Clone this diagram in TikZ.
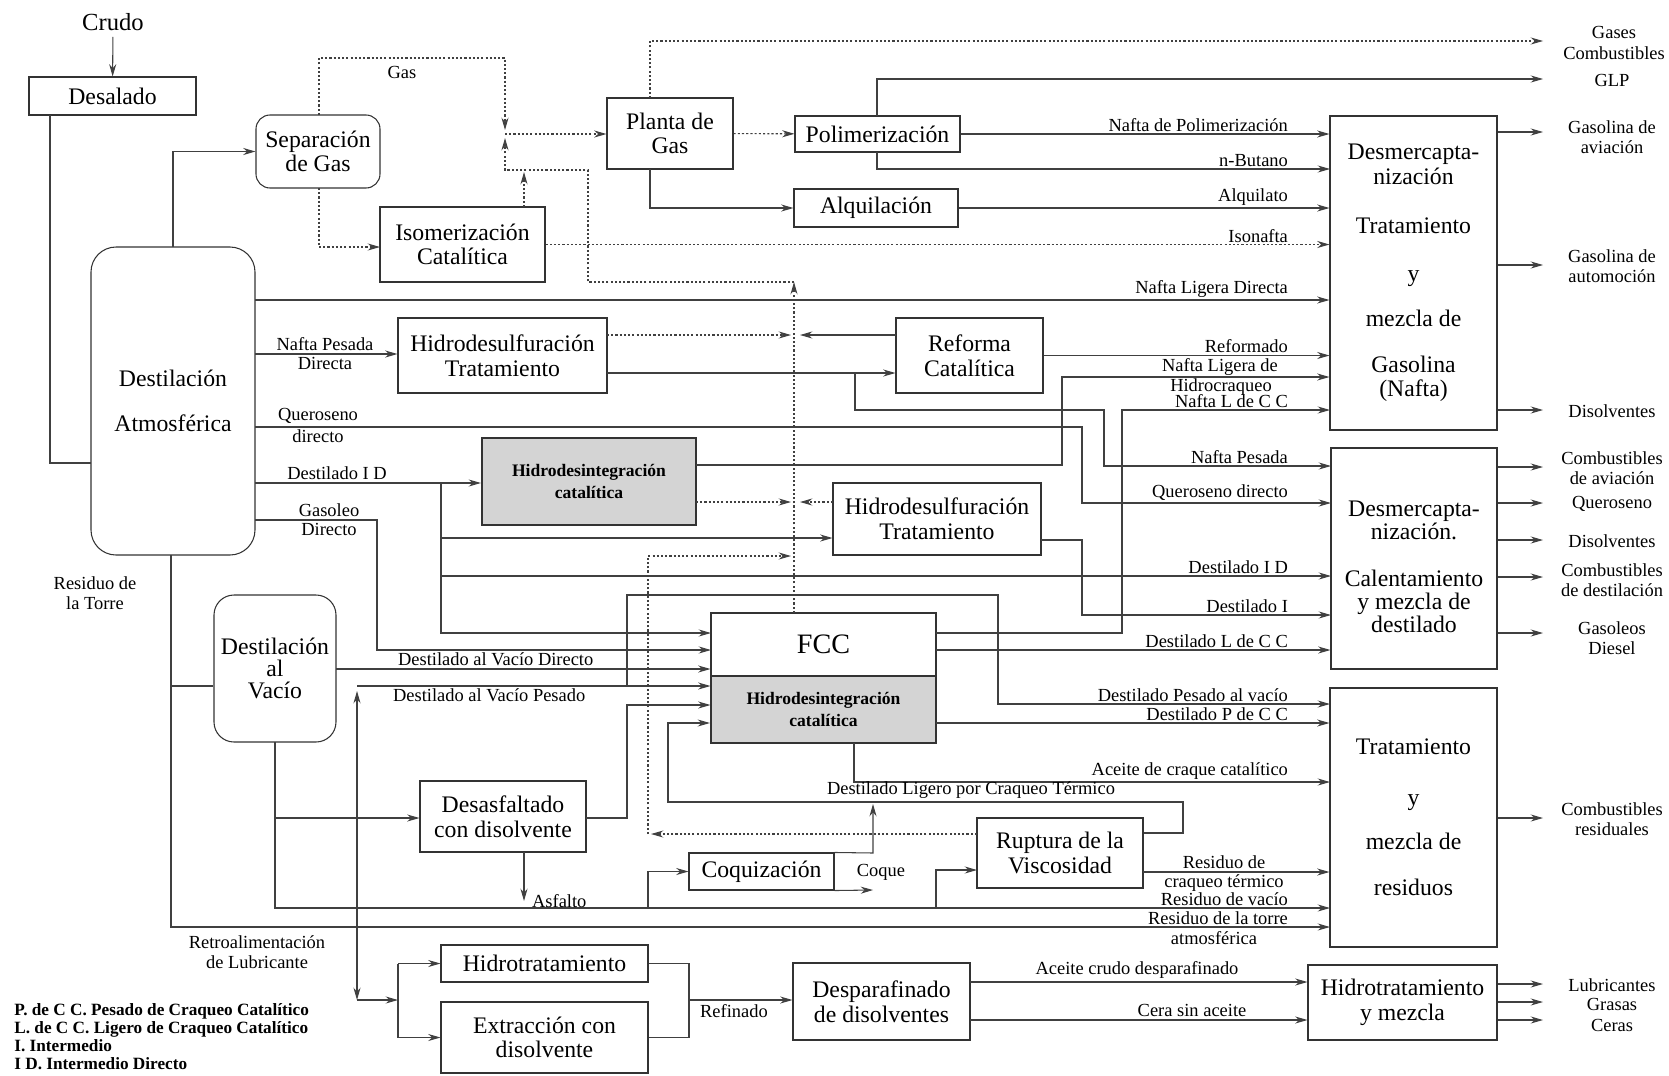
\documentclass[tikz,border=0pt]{standalone}
\usepackage{fontspec}
\setmainfont{Liberation Serif}
\usetikzlibrary{arrows.meta,positioning}

\tikzset{
  unit/.style={draw=black!80,line width=0.6pt,inner sep=0pt,align=center,
               font=\fontsize{13.5}{14}\selectfont},
  size/.style 2 args={minimum width=#1*0.2mm,minimum height=#2*0.2mm},
  column/.style={unit,rounded corners=5mm},
  hcrack/.style={unit,fill=black!17,line width=1.2pt,
               font=\bfseries\fontsize{10}{12.5}\selectfont},
  flow/.style={draw=black!75,line width=0.6pt},
  arr/.style={flow,-{Stealth[length=7pt,width=4pt]}},
  twoarr/.style={flow,{Stealth[length=7pt,width=4pt]}-{Stealth[length=7pt,width=4pt]}},
  gas/.style={dash pattern=on 1.2pt off 1.2pt},
  lbl/.style={font=\fontsize{10.5}{11.5}\selectfont,inner sep=1pt,align=center},
  tag/.style={lbl,anchor=south east},
  prod/.style={font=\fontsize{10.5}{11.5}\selectfont,inner sep=0pt,align=center},
}

\begin{document}
\begin{tikzpicture}[x=0.2mm,y=-0.2mm]
\useasboundingbox (0,0) rectangle (1669,1075);

% process units
\node[font=\fontsize{14}{16}\selectfont] (crudo) at (113,22) {Crudo};
\node[unit,size={167}{38}] (desal) at (112.5,96) {Desalado};
\node[unit,rounded corners=2.8mm,size={124}{73}] (sepgas) at (318,151.5) {Separación\\de Gas};
\node[unit,size={165}{75}] (isom) at (462.5,244.5) {Isomerización\\Catalítica};
\node[unit,size={126}{71}] (planta) at (670,133.5) {Planta de\\Gas};
\node[unit,size={165}{36}] (polim) at (877.5,134) {Polimerización};
\node[unit,size={164}{38}] (alqui) at (876,208) {Alquilación};
\node[unit,size={167}{314}] (gasol) at (1413.5,273)
  {Desmercapta-\\nización\\[14pt]Tratamiento\\[13.5pt]y\\[11.5pt]mezcla de\\[12pt]Gasolina\\(Nafta)};
\node[column,size={164}{308}] (atm) at (173,401) {Destilación\\[12pt]Atmosférica};
\node[unit,size={209}{75}] (hds1) at (502.5,355.5) {Hidrodesulfuración\\Tratamiento};
\node[unit,size={147}{75}] (reform) at (969.5,355.5) {Reforma\\Catalítica};
\node[hcrack,size={214}{87}] (hyd1) at (589,481.5) {Hidrodesintegración\\catalítica};
\node[unit,size={208}{72}] (hds2) at (937,519) {Hidrodesulfuración\\Tratamiento};
\node[unit,size={225}{63},font=\fontsize{16}{18}\selectfont] (fcc) at (823.5,644.5) {FCC};
\node[hcrack,size={225}{67}] (hyd2) at (823.5,709.5) {Hidrodesintegración\\catalítica};
\node[unit,size={166}{221}] (dist) at (1414,558.5) {};
\node[unit,draw=none,font=\fontsize{13.5}{13}\selectfont] (distT) at (1414,567)
  {Desmercapta-\\nización.\\[14pt]Calentamiento\\y mezcla de\\destilado};
\node[unit,size={167}{259}] (resid) at (1413.5,817.5)
  {Tratamiento\\[14.5pt]y\\[11.5pt]mezcla de\\[12pt]residuos};
\node[column,rounded corners=4mm,size={122}{147},
      font=\fontsize{13.5}{12.5}\selectfont] (vacio) at (275,668.5) {Destilación\\al\\Vacío};
\node[unit,size={166}{71}] (desasf) at (503,816.5) {Desasfaltado\\con disolvente};
\node[unit,size={145}{37}] (coq) at (761.5,871.5) {Coquización};
\node[unit,size={166}{70}] (rupt) at (1060,853) {Ruptura de la\\Viscosidad};
\node[unit,size={207}{37}] (hidrot) at (544.5,963.5) {Hidrotratamiento};
\node[unit,size={207}{71}] (extr) at (544.5,1037.5) {Extracción con\\disolvente};
\node[unit,size={177}{77}] (despar) at (881.5,1001.5) {Desparafinado\\de disolventes};
\node[unit,size={189}{75}] (hidmez) at (1402.5,1002.5) {Hidrotratamiento\\y mezcla};

% crude and gas section
\draw[arr] (crudo) -- (desal);
\coordinate (dlB) at (50,115);
\coordinate (atmL) at (91,463);
\draw[flow] (dlB) |- (atmL);
\coordinate (atmT) at (173,247);
\draw[arr] (atmT) |- (sepgas);
\coordinate (sgB) at (319,188);
\coordinate (isL) at (380,247);
\draw[arr,gas] (sgB) |- (isL);
\coordinate (sgT) at (319,115);
\coordinate (gasN) at (505,58);
\coordinate (gasJa) at (505,130);
\draw[arr,gas] (sgT) |- (gasN) -- (gasJa);
\node[lbl] (gaslbl) at (402,72) {Gas};
\coordinate (isT) at (524,207);
\coordinate (isTa) at (524,172);
\draw[arr,gas] (isT) -- (isTa);
\coordinate (gvB) at (794,613);
\coordinate (gvT) at (794,282);
\coordinate (gcol) at (588,170);
\coordinate (gasJb) at (505,138);
\draw[arr,gas] (gvB) -- (gvT);
\draw[arr,gas] (gvT) -| (gcol) -- (gcol -| gasJb) -- (gasJb);
\coordinate (gasJ) at (505,134);
\draw[arr,gas] (gasJ) -- (gasJ -| planta.west);
\draw[arr,gas] (planta) -- (polim);
\coordinate (plT) at (650,98);
\coordinate (oGC) at (1543,41);
\draw[arr,gas] (plT) |- (oGC);
\coordinate (plB) at (650,169);
\draw[arr] (plB) |- (alqui);
\coordinate (poT) at (877,116);
\coordinate (oGLP) at (1543,79);
\draw[arr] (poT) |- (oGLP);
\coordinate (poB) at (877,152);
\coordinate (nbIn) at (1330,169);
\draw[arr] (poB) |- (nbIn);
\draw[arr] (polim) -- (polim -| gasol.west);
\draw[arr] (alqui) -- (alqui -| gasol.west);
\draw[arr,gas] (isom) -- (isom -| gasol.west);

% straight run products
\coordinate (nld) at (255,300);
\draw[arr] (nld) -- (nld -| gasol.west);
\coordinate (npd) at (255,354);
\draw[arr] (npd) -- (npd -| hds1.west);
\coordinate (h1g) at (607,335);
\coordinate (gA) at (791,335);
\draw[arr,gas] (h1g) -- (gA);
\coordinate (rfg) at (896,335);
\coordinate (gB) at (800,335);
\draw[arr] (rfg) -- (gB);
\coordinate (h1o) at (607,373);
\draw[arr] (h1o) -- (h1o -| reform.west);
\coordinate (h1b) at (855,373);
\coordinate (npB) at (1104,410);
\coordinate (npIn) at (1331,466);
\draw[arr] (h1b) |- (npB) |- (npIn);
\draw[arr] (reform) -- (reform -| gasol.west);
\coordinate (hy1o) at (696,465);
\coordinate (nlh) at (1062,377);
\draw[arr] (hy1o) -| (nlh) -- (nlh -| gasol.west);
\coordinate (fccN) at (936,633);
\coordinate (fccNB) at (1122,633);
\coordinate (nlcc) at (1330,410);
\draw[arr] (fccN) -- (fccNB) |- (nlcc);
\coordinate (qd) at (255,427);
\coordinate (qB) at (1082,427);
\coordinate (qIn) at (1331,503);
\draw[arr] (qd) -- (qB) |- (qIn);
\coordinate (did) at (255,483);
\draw[arr] (did) -- (did -| hyd1.west);
\coordinate (hy1g) at (696,502);
\coordinate (gC) at (791,502);
\draw[arr,gas] (hy1g) -- (gC);
\coordinate (h2g) at (833,502);
\coordinate (gD) at (800,502);
\draw[arr,gas] (h2g) -- (gD);
\coordinate (db) at (441,483);
\coordinate (fIn1) at (711,633);
\draw[arr] (db) |- (fIn1);
\coordinate (db2) at (441,538);
\draw[arr] (db2) -- (db2 -| hds2.west);
\coordinate (db3) at (441,576);
\coordinate (didIn) at (1331,576);
\draw[arr] (db3) -- (didIn);
\coordinate (gdo) at (255,520);
\coordinate (gdB) at (377,520);
\coordinate (fIn2) at (711,650);
\draw[arr] (gdo) -- (gdB) |- (fIn2);

% vacuum and conversion
\coordinate (vdo) at (336,669);
\draw[arr] (vdo) -- (vdo -| fcc.west);
\coordinate (vpo) at (357,686);
\draw[arr] (vpo) -- (vpo -| fcc.west);
\coordinate (vpB) at (627,686);
\coordinate (dpv) at (998,595);
\coordinate (dpvIn) at (1330,704);
\draw[arr] (vpB) |- (dpv) |- (dpvIn);
\coordinate (dsO) at (586,818);
\coordinate (dsF) at (627,705);
\draw[arr] (dsO) -| (dsF) -- (dsF -| fcc.west);
\coordinate (ctR) at (1183,833);
\coordinate (ctT) at (1183,802);
\coordinate (ctL) at (668,723);
\draw[arr] (ctR -| rupt.east) -- (ctR) -- (ctT) -| (ctL) -- (ctL -| hyd2.west);
\coordinate (fccD) at (936,650);
\draw[arr] (fccD) -- (fccD -| dist.west);
\coordinate (hy2o) at (936,723);
\draw[arr] (hy2o) -- (hy2o -| resid.west);
\coordinate (hy2B) at (854,743);
\coordinate (accIn) at (1330,782);
\draw[arr] (hy2B) |- (accIn);
\coordinate (h2o) at (1041,540);
\coordinate (h2oB) at (1082,540);
\coordinate (diIn) at (1331,615);
\draw[arr] (h2o) -- (h2oB) |- (diIn);

% residues
\coordinate (atmB) at (171,555);
\coordinate (rtIn) at (1330,927);
\draw[arr] (atmB) |- (rtIn);
\coordinate (atmV) at (171,686);
\draw[flow] (atmV) -- (atmV -| vacio.west);
\coordinate (vcB) at (275,742);
\coordinate (rvIn) at (1330,908);
\draw[arr] (vcB) |- (rvIn);
\coordinate (vcD) at (275,818);
\draw[arr] (vcD) -- (vcD -| desasf.west);
\coordinate (asB) at (524,852);
\coordinate (asf) at (524,901);
\draw[arr] (asB) -- (asf);
\coordinate (cqI) at (648,908);
\draw[arr] (cqI) |- (coq);
\coordinate (ruI) at (936,908);
\coordinate (ruIn) at (977,870);
\draw[arr] (ruI) |- (ruIn);
\coordinate (cqR) at (873,853);
\coordinate (cqU) at (873,804);
\draw[arr] (coq.north east) -- (cqR) -- (cqU);
\coordinate (cqC) at (873,890);
\draw[arr] (coq.south east) -- (cqC);
\coordinate (ruG) at (977,834);
\coordinate (ruGL) at (651,834);
\draw[arr,gas] (ruG) -- (ruGL);
\coordinate (ruV) at (648,834);
\coordinate (gE) at (791,556);
\draw[arr,gas] (ruV) |- (gE);
\coordinate (rctO) at (1143,872);
\draw[arr] (rctO) -- (rctO -| resid.west);

% lubricants
\coordinate (lbT) at (357,691);
\coordinate (lbB) at (357,1000);
\draw[twoarr] (lbT) -- (lbB);
\coordinate (lbS) at (398,1000);
\draw[arr] (lbB) -- (lbS);
\coordinate (lbH) at (398,963.5);
\coordinate (lbE) at (398,1037.5);
\draw[flow] (lbH) -- (lbE);
\draw[arr] (lbH) -- (hidrot);
\draw[arr] (lbE) -- (extr);
\coordinate (rfH) at (689,963.5);
\coordinate (rfE) at (689,1037.5);
\coordinate (rfM) at (689,1000);
\draw[flow] (hidrot) -- (rfH) -- (rfE) -- (extr);
\draw[arr] (rfM) -- (rfM -| despar.west);
\coordinate (acd) at (970,982);
\draw[arr] (acd) -- (acd -| hidmez.west);
\coordinate (csa) at (970,1020);
\draw[arr] (csa) -- (csa -| hidmez.west);

% products
\foreach \y [count=\i] in {132,265,410}{
  \coordinate (og\i) at (1543,\y);
  \draw[arr] (og\i -| gasol.east) -- (og\i);
}
\foreach \y [count=\i] in {467,503,540,577,633}{
  \coordinate (od\i) at (1543,\y);
  \draw[arr] (od\i -| dist.east) -- (od\i);
}
\coordinate (or1) at (1543,818);
\draw[arr] (or1 -| resid.east) -- (or1);
\foreach \y [count=\i] in {984,1002,1020}{
  \coordinate (ol\i) at (1543,\y);
  \draw[arr] (ol\i -| hidmez.east) -- (ol\i);
}
\node[prod] (pGC) at (1614,43) {Gases\\Combustibles};
\node[prod] (pGLP) at (1612,80) {GLP};
\node[prod] (pGAv) at (1612,137) {Gasolina de\\aviación};
\node[prod] (pGAu) at (1612,266) {Gasolina de\\automoción};
\node[prod] (pDis1) at (1612,411) {Disolventes};
\node[prod] (pCAv) at (1612,468) {Combustibles\\de aviación};
\node[prod] (pQ) at (1612,504) {Queroseno};
\node[prod] (pDis2) at (1612,541) {Disolventes};
\node[prod] (pCD) at (1612,580) {Combustibles\\de destilación};
\node[prod] (pGD) at (1612,638) {Gasoleos\\Diesel};
\node[prod] (pCR) at (1612,819) {Combustibles\\residuales};
\node[prod] (pLub) at (1612,985) {Lubricantes};
\node[prod] (pGr) at (1612,1004) {Grasas};
\node[prod] (pCe) at (1612,1025) {Ceras};

% stream labels
\node[tag] (tNP) at (1290,134) {Nafta de Polimerización};
\node[tag] (tNB) at (1290,169) {n-Butano};
\node[tag] (tAlq) at (1290,208) {Alquilato};
\node[tag] (tIso) at (1290,245) {Isonafta};
\node[tag] (tNLD) at (1290,300) {Nafta Ligera Directa};
\node[tag] (tRef) at (1290,355) {Reformado};
\node[lbl,anchor=south,inner sep=0.5pt] (tNLH) at (1220,377) {Nafta Ligera de};
\node[lbl,anchor=north,inner sep=0.5pt] (tHc) at (1221,377) {Hidrocraqueo};
\node[tag] (tNLCC) at (1290,410) {Nafta L de C C};
\node[tag] (tNPe) at (1290,466) {Nafta Pesada};
\node[tag] (tQD) at (1290,503) {Queroseno directo};
\node[tag] (tDID) at (1290,576) {Destilado I D};
\node[tag] (tDI) at (1290,615) {Destilado I};
\node[tag] (tDLCC) at (1290,650) {Destilado L de C C};
\node[tag] (tDPV) at (1290,704) {Destilado Pesado al vacío};
\node[tag] (tDPCC) at (1290,723) {Destilado P de C C};
\node[tag] (tACC) at (1290,782) {Aceite de craque catalítico};
\node[lbl,anchor=south] (tRC) at (1224,871) {Residuo de};
\node[lbl,anchor=north] (tRC2) at (1224,873) {craqueo térmico};
\node[tag] (tRV) at (1290,908) {Residuo de vacío};
\node[tag] (tRT) at (1290,927) {Residuo de la torre};
\node[lbl,anchor=north] (tRT2) at (1214,929) {atmosférica};
\node[lbl,anchor=south] (lNP) at (325,353) {Nafta Pesada};
\node[lbl,anchor=north] (lND) at (325,355) {Directa};
\node[lbl,anchor=south] (lQ) at (318,426) {Queroseno};
\node[lbl,anchor=north] (lQd) at (318,428) {directo};
\node[lbl,anchor=south] (lDID) at (337,482) {Destilado I D};
\node[lbl,anchor=south] (lG) at (329,519) {Gasoleo};
\node[lbl,anchor=north] (lGd) at (329,521) {Directo};
\node[lbl,anchor=south west] (lVD) at (396,668) {Destilado al Vacío Directo};
\node[lbl,anchor=north west] (lVP) at (391,687) {Destilado al Vacío Pesado};
\node[lbl] (lTorre) at (95,593) {Residuo de\\la Torre};
\node[lbl] (lRetro) at (257,952) {Retroalimentación\\de Lubricante};
\node[lbl,anchor=west] (lAsf) at (530,901) {Asfalto};
\node[lbl] (lCoque) at (881,872) {Coque};
\node[lbl,anchor=north] (lRef) at (734,1002) {Refinado};
\node[lbl,anchor=south] (lDLCT) at (971,801) {Destilado Ligero por Craqueo Térmico};
\node[lbl,anchor=south] (lACD) at (1137,981) {Aceite crudo desparafinado};
\node[lbl,anchor=south] (lCSA) at (1192,1019) {Cera sin aceite};

% legend
\node[anchor=north west,align=left,inner sep=0pt,
      font=\bfseries\fontsize{9.8}{10.3}\selectfont] (legend) at (14,1003)
  {P. de C C. Pesado de Craqueo Catalítico\\L. de C C. Ligero de Craqueo Catalítico\\I. Intermedio\\I D. Intermedio Directo};
\end{tikzpicture}
\end{document}
